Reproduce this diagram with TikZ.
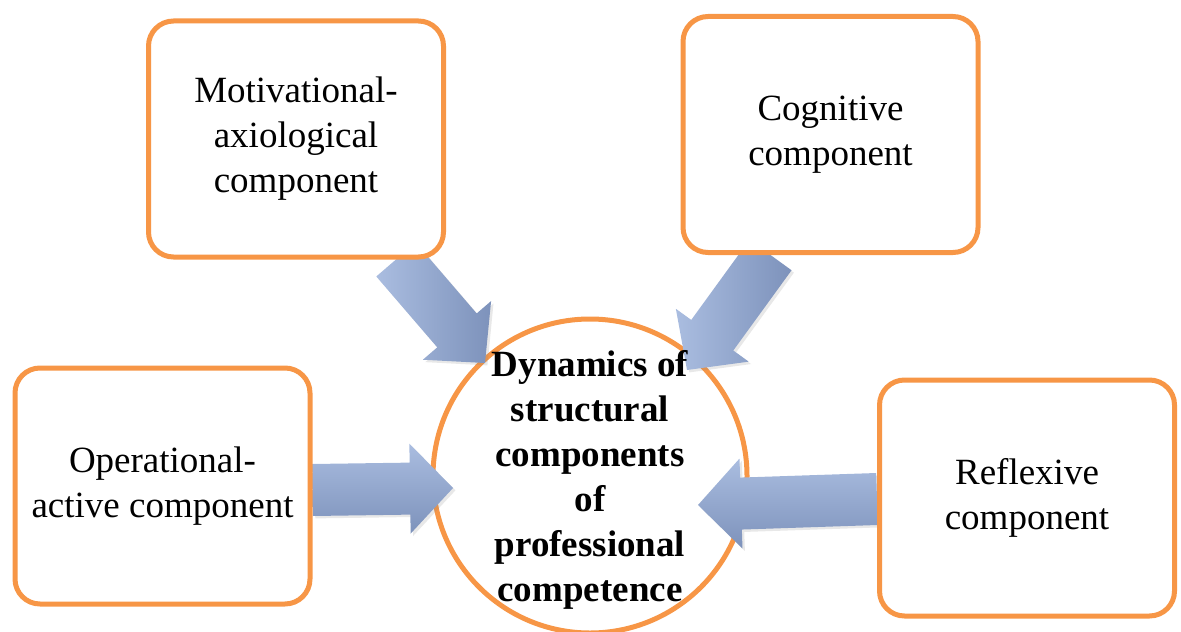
\documentclass[tikz,border=0pt]{standalone}
\usepackage{fontspec}
\setmainfont{Liberation Serif}
\usetikzlibrary{calc, shadows}

\definecolor{borde}{HTML}{F79646}
\definecolor{flechaclara}{HTML}{AABDE0}
\definecolor{flechaoscura}{HTML}{7D92BB}

\pgfdeclarelayer{frente}
\pgfsetlayers{main,frente}

% flecha de bloque: de #2 (borde de la caja) hasta #3 (punta), #1 = opciones del degradado
\newcommand{\flechabloque}[3][]{%
  \coordinate (#2-base) at ($(#3)!21.5pt!(#2)$);
  \shade[flecha, #1] ($(#2)!13pt!90:(#3)$) -- ($(#2-base)!13pt!90:(#3)$)
    -- ($(#2-base)!22.5pt!90:(#3)$) -- (#3)
    -- ($(#2-base)!22.5pt!-90:(#3)$) -- ($(#2-base)!13pt!-90:(#3)$)
    -- ($(#2)!13pt!-90:(#3)$) -- cycle;
}

\begin{document}
\begin{tikzpicture}[
    x=0.5pt, y=-0.5pt,
    caja/.style    = {draw=borde, line width=2.5pt, fill=white, rounded corners=12.5pt,
                      minimum width=147.5pt, minimum height=118pt, align=center,
                      font=\fontsize{18.5}{22.5}\selectfont},
    centro/.style  = {draw=borde, line width=2.5pt, circle, minimum size=157pt},
    titulo/.style  = {align=center, font=\fontsize{18.5}{22.5}\selectfont\bfseries},
    flecha/.style  = {top color=flechaclara, bottom color=flechaoscura,
                      drop shadow={shadow xshift=1.2pt, shadow yshift=-1.2pt, opacity=0.18}},
    lateral/.style = {left color=flechaclara, right color=flechaoscura},
]
\useasboundingbox (0,0) rectangle (1181,631);

% --- Circulo central ---
\node[centro] (core) at (590,476) {};

% --- Cajas de componentes y texto central ---
\begin{pgfonlayer}{frente}
\node[caja] (ma)   at (296,139)   {Motivational-\\axiological\\component};
\node[caja] (cog)  at (830.5,134.5) {Cognitive\\component};
\node[caja] (op)   at (162.5,486) {Operational-\\active component};
\node[caja] (refl) at (1027,498)  {Reflexive\\component};
\node[titulo] (core-text) at ($(core.center)+(0,4)$)
  {Dynamics of\\structural\\components\\of\\professional\\competence};
\end{pgfonlayer}

% --- Puntos de salida y llegada ---
\coordinate (ma-out)   at ($(ma.south)+(100,0)$);
\coordinate (cog-out)  at ($(cog.south)+(-60,0)$);
\coordinate (op-out)   at ($(op.east)+(0,4)$);
\coordinate (refl-out) at ($(refl.west)+(0,1)$);
\coordinate (ma-in)    at ($(core.center)+(-105,-113)$);
\coordinate (cog-in)   at ($(core.center)+(97,-106)$);
\coordinate (op-in)    at ($(core.center)+(-137,12)$);
\coordinate (refl-in)  at ($(core.center)+(108,29)$);

% --- Flechas hacia el centro ---
\flechabloque[lateral]{ma-out}{ma-in}
\flechabloque[lateral]{cog-out}{cog-in}
\flechabloque{op-out}{op-in}
\flechabloque{refl-out}{refl-in}

\end{tikzpicture}
\end{document}
